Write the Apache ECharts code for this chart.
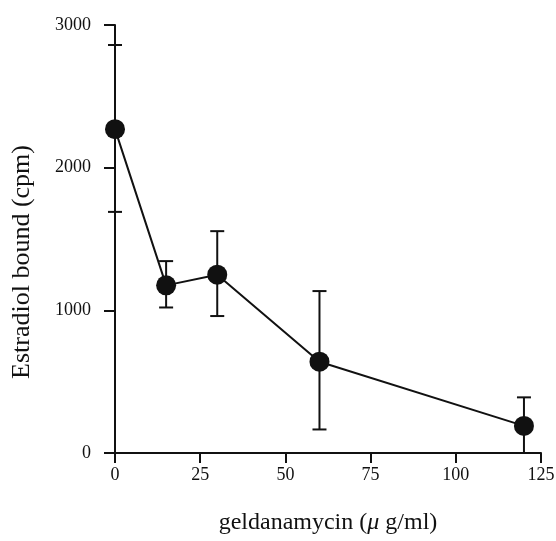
<!DOCTYPE html>
<html>
<head>
<meta charset="utf-8">
<script src="https://cdn.jsdelivr.net/npm/echarts@6/dist/echarts.min.js"></script>
<style>
  html, body { margin: 0; padding: 0; background: #fff; }
  #chart { width: 556px; height: 541px; }
</style>
</head>
<body>
<div id="chart"></div>
<script>
// geldanamycin dose (ug/ml) vs estradiol bound (cpm)
const doses = [0, 15, 30, 60, 120];
const bound = [2270, 1175, 1250, 640, 190];
const errLow = [1690, 1020, 960, 165, 0];
const errHigh = [2860, 1345, 1555, 1135, 390];

const xTicks = [0, 25, 50, 75, 100, 125];
const yTicks = [0, 1000, 2000, 3000];

const font = "'Liberation Serif', 'DejaVu Serif', serif";
const ink = "#111";

const chart = echarts.init(document.getElementById("chart"), null, { renderer: "canvas" });

const lineData = doses.map((d, i) => [d, bound[i]]);
const errData = doses.map((d, i) => [d, errLow[i], errHigh[i]]);

// draws a vertical whisker with caps at both ends
function renderErr(params, api) {
  const x = api.value(0);
  const lo = api.coord([x, api.value(1)]);
  const hi = api.coord([x, api.value(2)]);
  const cap = 7;
  const style = { stroke: ink, lineWidth: 2 };
  return {
    type: "group",
    children: [
      { type: "line", shape: { x1: hi[0], y1: hi[1], x2: lo[0], y2: lo[1] }, style },
      { type: "line", shape: { x1: hi[0] - cap, y1: hi[1], x2: hi[0] + cap, y2: hi[1] }, style },
      { type: "line", shape: { x1: lo[0] - cap, y1: lo[1], x2: lo[0] + cap, y2: lo[1] }, style },
    ],
  };
}

const option = {
  animation: false,
  backgroundColor: "#fff",
  grid: { left: 115, right: 15, top: 25, bottom: 88, containLabel: false, outerBoundsMode: "none" },
  xAxis: {
    type: "value",
    min: xTicks[0],
    max: xTicks[xTicks.length - 1],
    interval: 25,
    name: "{n|geldanamycin (}{i|μ}{n| g/ml)}",
    nameLocation: "middle",
    nameGap: 58,
    nameTextStyle: {
      rich: {
        n: { fontFamily: font, fontSize: 24, color: ink },
        i: { fontFamily: font, fontSize: 24, fontStyle: "italic", color: ink },
      },
    },
    axisLine: { onZero: false, lineStyle: { color: ink, width: 2 } },
    axisTick: { show: true, inside: false, length: 10, lineStyle: { color: ink, width: 2 } },
    axisLabel: { margin: 13, fontFamily: font, fontSize: 18, color: ink, formatter: (v) => String(v) },
    splitLine: { show: false },
  },
  yAxis: {
    type: "value",
    min: yTicks[0],
    max: yTicks[yTicks.length - 1],
    interval: 1000,
    name: "Estradiol bound (cpm)",
    nameLocation: "middle",
    nameGap: 80,
    nameRotate: 90,
    nameTextStyle: { fontFamily: font, fontSize: 26, color: ink, padding: [0, 0, 0, -46] },
    axisLine: { show: true, onZero: false, lineStyle: { color: ink, width: 2 } },
    axisTick: { show: true, inside: false, length: 11, lineStyle: { color: ink, width: 2 } },
    axisLabel: { margin: 24, fontFamily: font, fontSize: 18, color: ink, formatter: (v) => String(v) },
    splitLine: { show: false },
  },
  series: [
    {
      type: "custom",
      renderItem: renderErr,
      data: errData,
      encode: { x: 0, y: [1, 2] },
      clip: false,
      z: 2,
    },
    {
      type: "line",
      data: lineData,
      symbol: "circle",
      symbolSize: 20,
      lineStyle: { color: ink, width: 2 },
      itemStyle: { color: ink },
      clip: false,
      z: 3,
    },
  ],
};

chart.setOption(option);
</script>
</body>
</html>
